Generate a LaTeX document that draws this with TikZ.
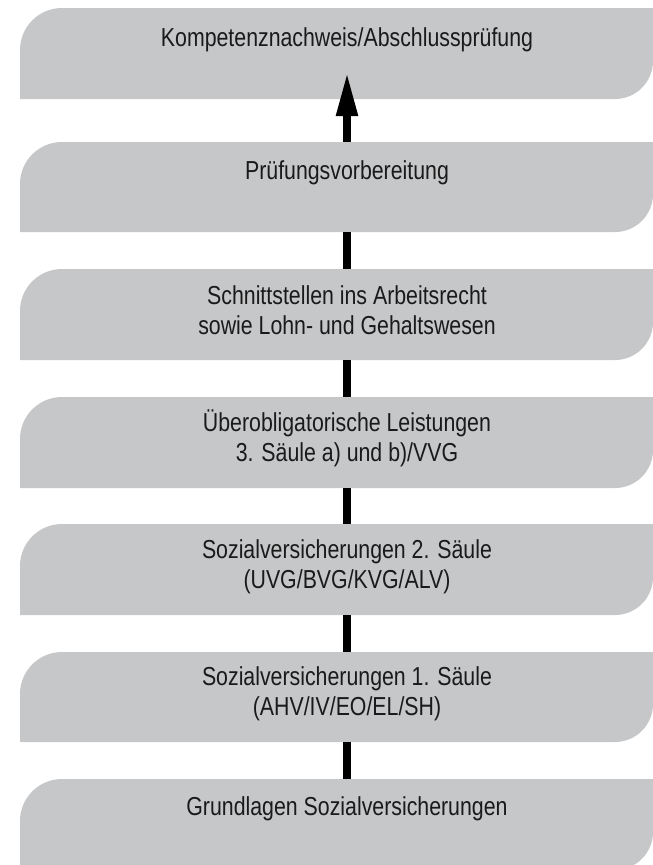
\documentclass[tikz,border=0pt]{standalone}
\usepackage{fontspec}
\setmainfont{Liberation Sans}[FakeStretch=0.82]
\usetikzlibrary{arrows.meta}
\definecolor{boxgray}{HTML}{C6C7C9}
\definecolor{txtcol}{HTML}{1A1A1A}
\tikzset{
  panel/.style={fill=boxgray},
  anchorbox/.style={inner sep=0pt, minimum width=8pt, draw=none},
  boxlabel/.style={font=\fontsize{26}{30}\selectfont, text=txtcol, align=center, anchor=base, inner sep=0pt},
  shaft/.style={line width=8pt, draw=black},
  head/.style={-{Triangle[length=44pt,width=20pt]}}
}
\newcommand\panelbox[3]{% name, top, bottom
  \fill[panel] (20pt,-#3pt) -- (20pt,{-(#2+42)*1pt}) arc[start angle=180,end angle=90,radius=42pt]
    -- (653pt,-#2pt) -- (653pt,{-(#3-38)*1pt}) arc[start angle=0,end angle=-90,radius=38pt] -- cycle;
  \path (347pt,{-(#2+#3)/2*1pt}) node[anchorbox, minimum height={(#3-#2)*1pt}] (#1) {};
}
\begin{document}
\begin{tikzpicture}
\useasboundingbox (0pt,0pt) rectangle (653pt,-865pt);
\panelbox{b1}{8}{99}
\panelbox{b2}{142}{232}
\panelbox{b3}{269}{360}
\panelbox{b4}{397}{488}
\panelbox{b5}{524}{615}
\panelbox{b6}{652}{742}
\panelbox{b7}{779}{870}
\node[boxlabel] (t1) at (347pt,-46pt) {Kompetenznachweis/Abschlussprüfung};
\node[boxlabel] (t2) at (347pt,-179pt) {Prüfungsvorbereitung};
\node[boxlabel] (t3) at (347pt,-334pt) {Schnittstellen ins Arbeitsrecht\\sowie Lohn- und Gehaltswesen};
\node[boxlabel] (t4) at (347pt,-461pt) {Überobligatorische Leistungen\\3. Säule a) und b)/VVG};
\node[boxlabel] (t5) at (347pt,-588pt) {Sozialversicherungen 2. Säule\\(UVG/BVG/KVG/ALV)};
\node[boxlabel] (t6) at (347pt,-715pt) {Sozialversicherungen 1. Säule\\(AHV/IV/EO/EL/SH)};
\node[boxlabel] (t7) at (347pt,-815pt) {Grundlagen Sozialversicherungen};
\coordinate (tip) at (347pt,-72pt);
\draw[shaft] (b7.north) -- (b6.south);
\draw[shaft] (b6.north) -- (b5.south);
\draw[shaft] (b5.north) -- (b4.south);
\draw[shaft] (b4.north) -- (b3.south);
\draw[shaft] (b3.north) -- (b2.south);
\draw[shaft,head] (b2.north) -- (tip);
\end{tikzpicture}
\end{document}
